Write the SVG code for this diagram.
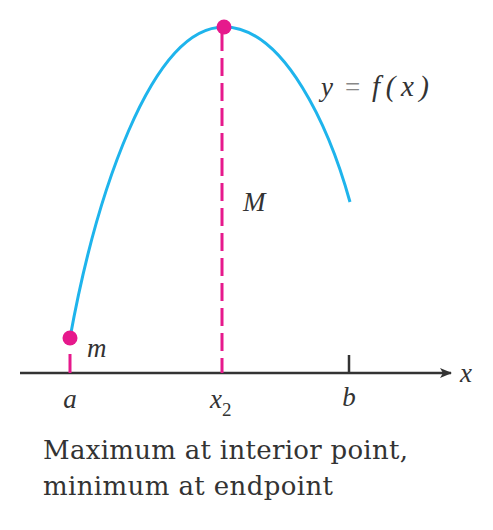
<svg xmlns="http://www.w3.org/2000/svg" width="493" height="530" viewBox="0 0 493 530">
<defs>
<style>
.lbl{font-family:"Liberation Serif","Times New Roman",serif;font-style:italic;font-size:27px;fill:#333}
.cap{font-family:"DejaVu Serif","Liberation Serif",serif;font-size:26px;fill:#333}
.dash{stroke:#E6198C;stroke-width:3;stroke-dasharray:18,7;fill:none}
.pt{fill:#E6198C}
</style>
<marker id="arr" markerWidth="12" markerHeight="10" refX="11" refY="5" orient="auto" markerUnits="userSpaceOnUse">
<path d="M0,0 L12,5 L0,10 L3,5 Z" fill="#333"/>
</marker>
</defs>
<rect width="493" height="530" fill="#fff"/>
<g id="axis">
<line x1="20" y1="373" x2="451" y2="373" stroke="#333" stroke-width="2.5" marker-end="url(#arr)"/>
<line x1="349" y1="355" x2="349" y2="373" stroke="#333" stroke-width="2.5"/>
<text class="lbl" x="460" y="382">x</text>
</g>
<g id="connectors">
<line class="dash" x1="222" y1="33" x2="222" y2="373"/>
<line x1="70" y1="354" x2="70" y2="373" stroke="#E6198C" stroke-width="3"/>
</g>
<g id="curve">
<path d="M70,338 C95,200 150,27 224,27 C285,27 330,130 350,202" fill="none" stroke="#1EB4EC" stroke-width="3"/>
<text class="lbl" x="321" y="96"><tspan>y</tspan><tspan x="345" font-style="normal" fill="#888">=</tspan><tspan x="372" font-size="29" textLength="57">f(x)</tspan></text>
</g>
<g id="max">
<circle class="pt" cx="224" cy="27" r="7.5"/>
<text class="lbl" x="243" y="211">M</text>
</g>
<g id="min">
<circle class="pt" cx="70" cy="338" r="7.5"/>
<text class="lbl" x="87" y="357">m</text>
</g>
<g id="ticks">
<text class="lbl" x="70" y="408" text-anchor="middle">a</text>
<text class="lbl" x="210" y="408">x<tspan font-size="19" dy="8" font-style="normal">2</tspan></text>
<text class="lbl" x="349" y="406" text-anchor="middle">b</text>
</g>
<g id="caption">
<text class="cap" x="43" y="459" textLength="365">Maximum at interior point,</text>
<text class="cap" x="43" y="495" textLength="290">minimum at endpoint</text>
</g>
</svg>
